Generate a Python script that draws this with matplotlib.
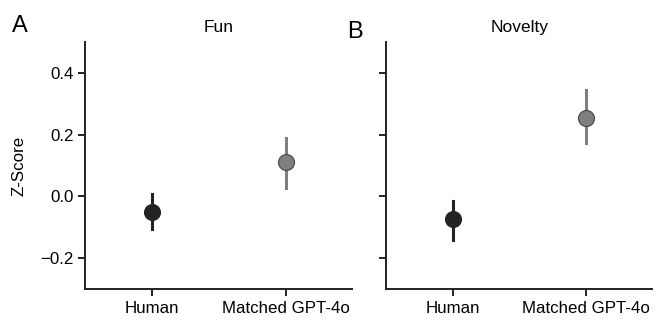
import matplotlib.pyplot as plt

plt.rcParams['font.family'] = ['Liberation Sans', 'DejaVu Sans']

groups = ["Human", "Matched GPT-4o"]
panels = ["Fun", "Novelty"]
letters = ["A", "B"]
means = {"Fun": [-0.05, 0.11], "Novelty": [-0.075, 0.253]}
ci_low = {"Fun": [-0.105, 0.026], "Novelty": [-0.14, 0.172]}
ci_high = {"Fun": [0.006, 0.188], "Novelty": [-0.016, 0.344]}
colors = ["#232323", "#7f7f7f"]

fig = plt.figure(figsize=(6.66, 3.34), dpi=100)
ax1 = fig.add_axes([0.128, 0.135, 0.401, 0.739])
ax2 = fig.add_axes([0.580, 0.135, 0.399, 0.739], sharey=ax1)

for ax, panel in zip([ax1, ax2], panels):
    for i, g in enumerate(groups):
        ax.plot([i, i], [ci_low[panel][i], ci_high[panel][i]], color=colors[i], lw=2.2, zorder=2)
        ax.plot(i, means[panel][i], 'o', ms=11.5, color=colors[i],
                mec='#444444' if i == 1 else colors[i], mew=0.8, zorder=3)
    ax.set_xlim(-0.5, 1.5)
    ax.set_ylim(-0.3, 0.5)
    ax.set_xticks([0, 1])
    ax.set_xticklabels(groups)
    ax.set_yticks([-0.2, 0.0, 0.2, 0.4])
    ax.set_title(panel, fontsize=12.5, pad=7)
    ax.spines['top'].set_visible(False)
    ax.spines['right'].set_visible(False)
    for s in ['left', 'bottom']:
        ax.spines[s].set_linewidth(1.4)
        ax.spines[s].set_color('#222222')
    ax.tick_params(width=1.4, length=5, labelsize=12.2, color='#222222')

ax1.set_yticklabels(['\u22120.2', '0.0', '0.2', '0.4'])
ax1.set_ylabel("Z-Score", fontsize=12.2, labelpad=10)
plt.setp(ax2.get_yticklabels(), visible=False)

fig.text(0.018, 0.905, letters[0], fontsize=17)
fig.text(0.521, 0.885, letters[1], fontsize=17)

fig.savefig("out.png", dpi=100)
